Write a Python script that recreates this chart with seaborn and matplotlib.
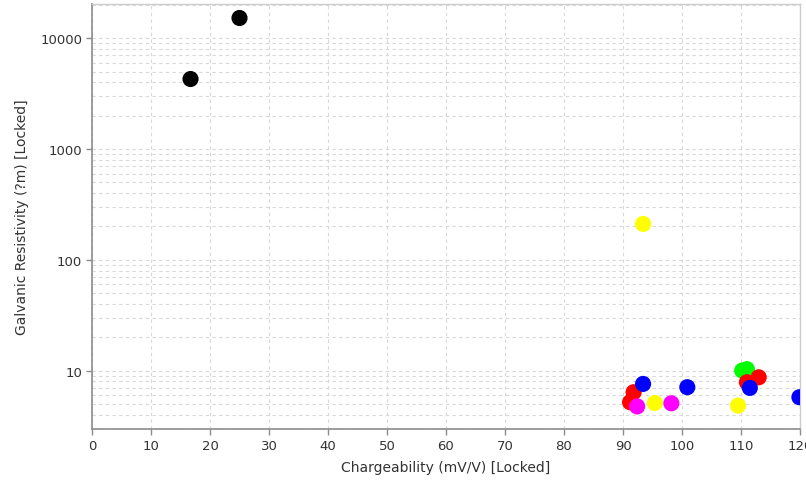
import pandas as pd
import matplotlib
matplotlib.use("Agg")
import matplotlib.pyplot as plt
import matplotlib.ticker as mticker
import seaborn as sns

# --- data ---
chargeability = [16.7, 25.0,
                 110.2, 111.0,
                 113.0, 111.0, 91.2, 91.8,
                 111.5, 119.9, 100.9, 93.4,
                 93.4, 109.5, 95.4,
                 98.2, 92.4]
resistivity = [4290, 15250,
               10.0, 10.3,
               8.7, 7.85, 5.18, 6.38,
               6.98, 5.75, 7.08, 7.58,
               211, 4.83, 5.1,
               5.07, 4.75]
group = ["black", "black",
         "green", "green",
         "red", "red", "red", "red",
         "blue", "blue", "blue", "blue",
         "yellow", "yellow", "yellow",
         "magenta", "magenta"]

palette = {"black": "#000000", "green": "#00ff00", "red": "#ff0000",
           "blue": "#0000ff", "yellow": "#ffff00", "magenta": "#ff00ff"}

df = pd.DataFrame({"x": chargeability, "y": resistivity, "g": group})

sns.set_style("white")
plt.rcParams["font.family"] = ["DejaVu Sans"]

fig = plt.figure(figsize=(8.06, 4.85), dpi=100)
ax = fig.add_axes([92 / 806, 1 - 430 / 485, 708 / 806, 425 / 485])

sns.scatterplot(data=df, x="x", y="y", hue="g", palette=palette, s=135,
                linewidth=0, ax=ax, legend=False, zorder=3)

ax.set_yscale("log")
ax.set_xlim(0, 120)
ax.set_ylim(2.97, 20400)
ax.xaxis.set_major_locator(mticker.MultipleLocator(10))
ax.yaxis.set_major_locator(mticker.LogLocator(base=10))
ax.yaxis.set_minor_locator(mticker.LogLocator(base=10, subs=range(2, 10)))
ax.yaxis.set_major_formatter(mticker.FuncFormatter(lambda v, p: f"{v:g}" if v < 1e5 else ""))
ax.yaxis.set_minor_formatter(mticker.NullFormatter())

ax.grid(True, which="major", color="#d8d8d8", linestyle=(0, (3, 3)), linewidth=0.8)
ax.grid(True, which="minor", axis="y", color="#d8d8d8", linestyle=(0, (3, 3)), linewidth=0.8)
ax.set_axisbelow(True)

for side in ["left", "bottom"]:
    ax.spines[side].set_color("#8c8c8c")
    ax.spines[side].set_linewidth(1.2)
for side in ["top", "right"]:
    ax.spines[side].set_color("#cccccc")
    ax.spines[side].set_linewidth(1.0)

ax.tick_params(axis="both", which="major", direction="out", length=4, width=1,
               color="#8c8c8c", labelsize=9.5, labelcolor="#333333", pad=3)
ax.tick_params(axis="y", which="minor", direction="out", length=2.5, width=1,
               color="#8c8c8c")
ax.tick_params(left=True, bottom=True)

ax.set_xlabel("Chargeability (mV/V) [Locked]", fontsize=10, color="#333333", labelpad=6)
ax.set_ylabel("Galvanic Resistivity (?m) [Locked]", fontsize=10, color="#333333", labelpad=8)

fig.savefig("out.png", dpi=100)
